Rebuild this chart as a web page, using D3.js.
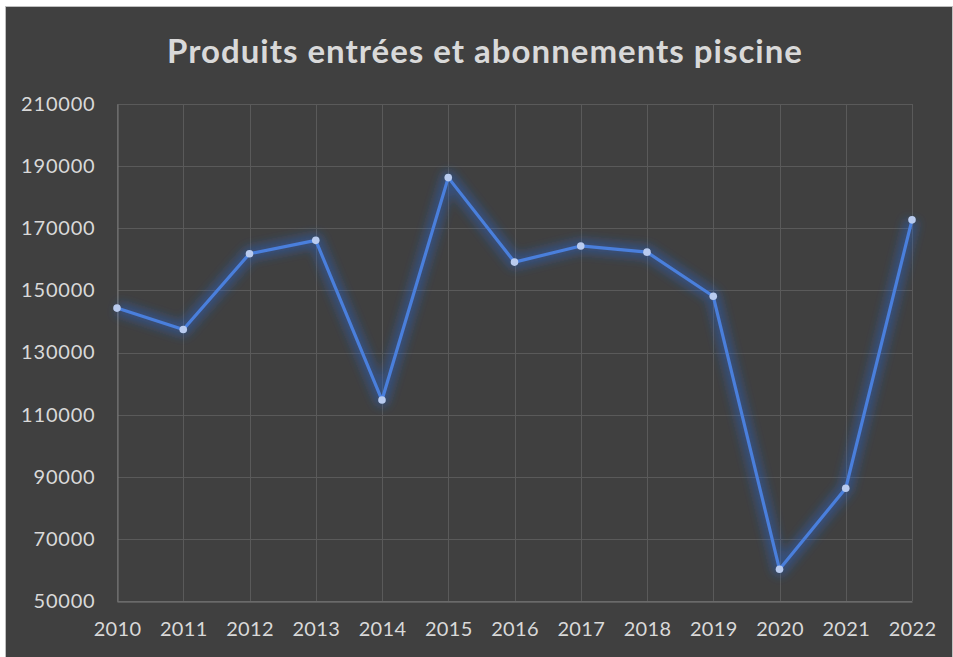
<!DOCTYPE html>
<html>
<head>
<meta charset="utf-8">
<script src="https://cdn.jsdelivr.net/npm/d3@7"></script>
<style>
  body { margin: 0; background: #fff; }
  svg text { font-family: Lato, "Open Sans", sans-serif; fill: #d9d9d9; }
</style>
</head>
<body>
<div id="chart"></div>
<script>
// data
const years = [2010, 2011, 2012, 2013, 2014, 2015, 2016, 2017, 2018, 2019, 2020, 2021, 2022];
const produits = [144300, 137400, 161800, 166100, 114700, 186300, 159100, 164300, 162300, 148100, 60200, 86300, 172700];
const yTicks = [50000, 70000, 90000, 110000, 130000, 150000, 170000, 190000, 210000];
const title = 'Produits entrées et abonnements piscine';

const width = 953, height = 657;
const margin = {top: 104, right: 41, bottom: 56, left: 117};

const svg = d3.select('#chart').append('svg')
    .attr('width', width)
    .attr('height', height);

// chart background + frame
svg.append('rect')
    .attr('x', 5.5).attr('y', 6.5)
    .attr('width', width - 6).attr('height', height - 6)
    .attr('fill', '#404040')
    .attr('stroke', '#bfbfbf');

// glow filter for the line
let defs = svg.append('defs');
let glow = defs.append('filter')
    .attr('id', 'glow')
    .attr('x', '-20%').attr('y', '-20%')
    .attr('width', '140%').attr('height', '140%');
glow.append('feGaussianBlur')
    .attr('in', 'SourceGraphic')
    .attr('stdDeviation', 5)
    .attr('result', 'blur');

let x = d3.scalePoint()
    .domain(years)
    .range([margin.left, width - margin.right]);
let y = d3.scaleLinear()
    .domain([50000, 210000])
    .range([height - margin.bottom, margin.top]);

// title
svg.append('text')
    .attr('x', 485)
    .attr('y', 63)
    .attr('text-anchor', 'middle')
    .style('font-size', '33px')
    .style('font-weight', 'bold')
    .style('letter-spacing', '1px')
    .text(title);

// horizontal grid
svg.append('g')
    .selectAll('line')
    .data(yTicks)
    .enter()
    .append('line')
    .attr('x1', margin.left)
    .attr('x2', width - margin.right)
    .attr('y1', d => Math.round(y(d)) + 0.5)
    .attr('y2', d => Math.round(y(d)) + 0.5)
    .attr('stroke', '#5a5a5a');

// vertical grid
svg.append('g')
    .selectAll('line')
    .data(years)
    .enter()
    .append('line')
    .attr('x1', d => Math.round(x(d)) + 0.5)
    .attr('x2', d => Math.round(x(d)) + 0.5)
    .attr('y1', margin.top)
    .attr('y2', height - margin.bottom)
    .attr('stroke', '#5a5a5a');

// axes (lines slightly lighter than grid)
let yAxis = d3.axisLeft(y)
    .tickValues(yTicks)
    .tickSize(0)
    .tickPadding(22)
    .tickFormat(d => d);
svg.append('g')
    .attr('class', 'y-axis')
    .attr('transform', `translate(${margin.left + 0.5},0)`)
    .call(yAxis)
    .call(g => g.select('.domain').attr('stroke', '#7a7a7a'))
    .selectAll('text')
    .style('font-size', '20px')
    .style('letter-spacing', '0.8px')
    .attr('fill', '#d9d9d9');

let xAxis = d3.axisBottom(x)
    .tickSize(0)
    .tickPadding(20)
    .tickFormat(d => d);
svg.append('g')
    .attr('class', 'x-axis')
    .attr('transform', `translate(0,${height - margin.bottom + 0.5})`)
    .call(xAxis)
    .call(g => g.select('.domain').attr('stroke', '#7a7a7a'))
    .selectAll('text')
    .style('font-size', '20px')
    .style('letter-spacing', '0.3px')
    .attr('fill', '#d9d9d9');

// line
let line = d3.line()
    .x((d, i) => x(years[i]))
    .y(d => y(d));

svg.append('path')
    .datum(produits)
    .attr('d', line)
    .attr('fill', 'none')
    .attr('stroke', '#2a66d8')
    .attr('stroke-width', 14)
    .attr('stroke-opacity', 0.4)
    .attr('stroke-linejoin', 'round')
    .attr('filter', 'url(#glow)');

svg.append('path')
    .datum(produits)
    .attr('d', line)
    .attr('fill', 'none')
    .attr('stroke', '#4a7fdc')
    .attr('stroke-width', 3.2)
    .attr('stroke-linejoin', 'round');

// markers
svg.append('g')
    .selectAll('circle')
    .data(produits)
    .enter()
    .append('circle')
    .attr('cx', (d, i) => x(years[i]))
    .attr('cy', d => y(d))
    .attr('r', 3.8)
    .attr('fill', '#b9cbef');
</script>
</body>
</html>
